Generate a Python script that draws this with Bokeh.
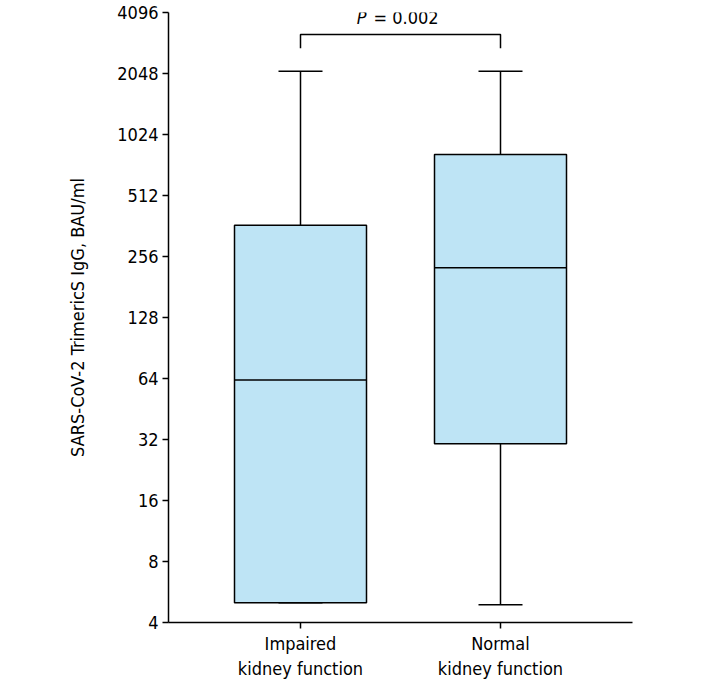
from bokeh.plotting import figure
from bokeh.models import ColumnDataSource, FixedTicker, PrintfTickFormatter, Label
from bokeh.embed import file_html
from bokeh.resources import INLINE

# Antibody levels (BAU/ml) by kidney function group
groups = ["Impaired\nkidney function", "Normal\nkidney function"]
lower = [5.0, 4.9]
q1 = [5.0, 30.5]
median = [63, 225]
q3 = [365, 815]
upper = [2100, 2100]
y_ticks = [4, 8, 16, 32, 64, 128, 256, 512, 1024, 2048, 4096]
p_text = "0.002"

FONT = "Liberation Sans Narrow, DejaVu Sans Condensed, Roboto, sans-serif"

xs = [i + 1 for i in range(len(groups))]
src = ColumnDataSource(dict(x=xs, lower=lower, q1=q1, median=median, q3=q3, upper=upper))

p = figure(width=703, height=683, x_range=(0.34, 2.66), y_range=(4, 4096),
           y_axis_type="log", output_backend="svg", toolbar_location=None,
           min_border_left=168, min_border_right=71, min_border_top=12,
           min_border_bottom=61)
p.outline_line_color = None
p.grid.visible = False
p.background_fill_color = "white"
p.border_fill_color = "white"

box_w = 0.66
cap_w = 0.22

# whiskers and caps
p.segment(x0="x", x1="x", y0="q3", y1="upper", source=src, line_color="black", line_width=1.5)
p.segment(x0="x", x1="x", y0="lower", y1="q1", source=src, line_color="black", line_width=1.5)
src.data["cap_l"] = [x - cap_w / 2 for x in xs]
src.data["cap_r"] = [x + cap_w / 2 for x in xs]
p.segment(x0="cap_l", x1="cap_r", y0="upper", y1="upper", source=src, line_color="black", line_width=1.5)
p.segment(x0="cap_l", x1="cap_r", y0="lower", y1="lower", source=src, line_color="black", line_width=1.5)

# boxes
p.vbar(x="x", width=box_w, bottom="q1", top="q3", source=src,
       fill_color="#bee4f5", line_color="black", line_width=1.5)
src.data["box_l"] = [x - box_w / 2 for x in xs]
src.data["box_r"] = [x + box_w / 2 for x in xs]
p.segment(x0="box_l", x1="box_r", y0="median", y1="median", source=src,
          line_color="black", line_width=1.5)

# significance bracket
br_top, br_bot = 3190, 2727
p.line(x=[xs[0], xs[0], xs[1], xs[1]], y=[br_bot, br_top, br_top, br_bot],
       line_color="black", line_width=1.5)
mid = (xs[0] + xs[1]) / 2
p.add_layout(Label(x=mid, y=3870, text="P", text_align="right", text_baseline="middle",
                   x_offset=-34, text_font=FONT, text_font_size="18px",
                   text_font_style="italic", text_color="black"))
p.add_layout(Label(x=mid, y=3870, text="= " + p_text, text_align="left", text_baseline="middle",
                   x_offset=-27, text_font=FONT, text_font_size="18px", text_color="black"))

# axes
p.yaxis.ticker = FixedTicker(ticks=y_ticks, minor_ticks=[])
p.yaxis.formatter = PrintfTickFormatter(format="%d")
p.yaxis.axis_label = "SARS-CoV-2 TrimericS IgG, BAU/ml"
p.xaxis.ticker = FixedTicker(ticks=xs, minor_ticks=[])
p.xaxis.major_label_overrides = {x: g for x, g in zip(xs, groups)}

for ax in (p.xaxis[0], p.yaxis[0]):
    ax.axis_line_color = "black"
    ax.axis_line_width = 1.5
    ax.major_tick_line_color = "black"
    ax.major_tick_line_width = 1.5
    ax.major_tick_in = 0
    ax.major_tick_out = 6
    ax.minor_tick_line_color = None
    ax.major_label_text_font = FONT
    ax.major_label_text_font_size = "18px"
    ax.major_label_text_color = "black"
    ax.axis_label_text_font = FONT
    ax.axis_label_text_font_size = "18px"
    ax.axis_label_text_font_style = "normal"
    ax.axis_label_text_color = "black"

p.yaxis.major_label_standoff = 4
p.yaxis.axis_label_standoff = 26
p.xaxis.major_label_standoff = 4

open("out.html", "w").write(file_html(p, INLINE))
